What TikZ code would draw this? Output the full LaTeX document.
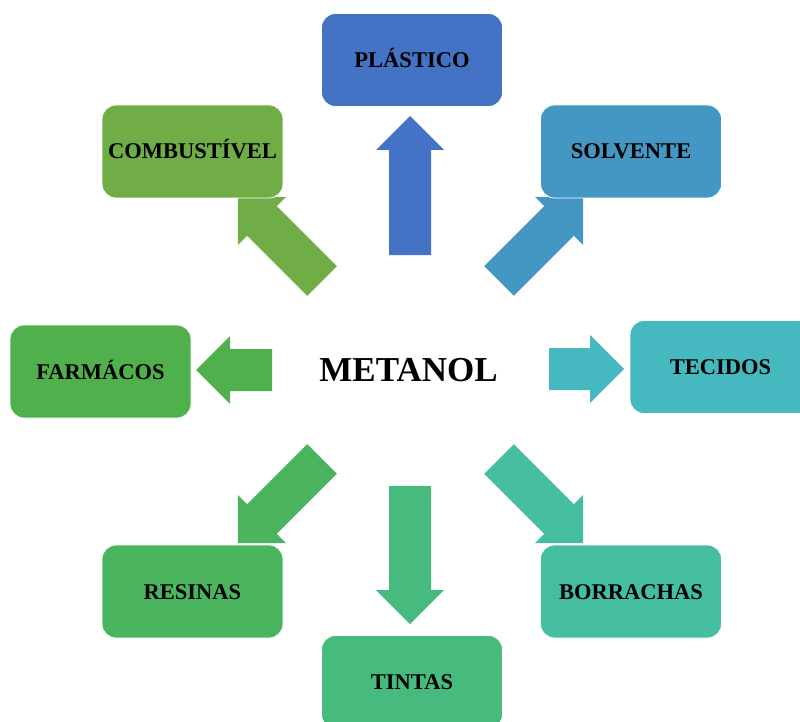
\documentclass[tikz,border=0pt]{standalone}
\usepackage{fontspec}
\setmainfont{Liberation Serif}
\definecolor{cPla}{HTML}{4472C4}
\definecolor{cSol}{HTML}{4497C2}
\definecolor{cTec}{HTML}{45B8C0}
\definecolor{cBor}{HTML}{45BEA0}
\definecolor{cTin}{HTML}{47BA7D}
\definecolor{cRes}{HTML}{4AB55E}
\definecolor{cFar}{HTML}{50B04B}
\definecolor{cCom}{HTML}{70AD47}
\tikzset{
  catbox/.style={rectangle, rounded corners=14pt, minimum width=181pt,
    minimum height=93pt, inner sep=0pt, text height=15pt, text depth=0pt,
    draw=white, line width=0.8pt,
    font=\fontsize{22.5}{27}\selectfont\bfseries, text=black},
  hub/.style={inner sep=0pt, text height=23pt, text depth=0pt,
    font=\fontsize{35}{42}\selectfont\bfseries},
  % block arrow along +x: shaft 42 wide, head 68 wide and 34 long; #1 = total length
  pics/blockarrow/.style={code={
    \fill (0,-21) -- ({#1-34},-21) -- ({#1-34},-34) -- (#1,0)
      -- ({#1-34},34) -- ({#1-34},21) -- (0,21) -- cycle;}}
}
\begin{document}
\begin{tikzpicture}[x=1pt,y=1pt]
\useasboundingbox (0,0) rectangle (800,-722);
\clip (0,0) rectangle (800,-722);

% centre label
\node[hub] (met) at (408.5,-370) {METANOL};

% arrow tails around the centre
\coordinate (tPla) at (410,-255);
\coordinate (tSol) at (499,-281);
\coordinate (tTec) at (549,-369);
\coordinate (tBor) at (499,-459);
\coordinate (tTin) at (410,-486);
\coordinate (tRes) at (322,-459);
\coordinate (tFar) at (272,-370);
\coordinate (tCom) at (322,-281);

% block arrows from the centre towards each box
\pic[fill=cPla, rotate=90]  at (tPla) {blockarrow=139};
\pic[fill=cSol, rotate=45]  at (tSol) {blockarrow=119};
\pic[fill=cTec, rotate=0]   at (tTec) {blockarrow=75};
\pic[fill=cBor, rotate=-45] at (tBor) {blockarrow=119};
\pic[fill=cTin, rotate=-90] at (tTin) {blockarrow=138};
\pic[fill=cRes, rotate=225] at (tRes) {blockarrow=119};
\pic[fill=cFar, rotate=180] at (tFar) {blockarrow=76};
\pic[fill=cCom, rotate=135] at (tCom) {blockarrow=119};

% category boxes
\node[catbox, fill=cPla] (pla) at (412,-60)    {PLÁSTICO};
\node[catbox, fill=cSol] (sol) at (631,-151.5) {SOLVENTE};
\node[catbox, fill=cTec] (tec) at (720.5,-367) {TECIDOS};
\node[catbox, fill=cBor] (bor) at (631,-591.5) {BORRACHAS};
\node[catbox, fill=cTin] (tin) at (412,-682)   {TINTAS};
\node[catbox, fill=cRes] (res) at (192.5,-591.5) {RESINAS};
\node[catbox, fill=cFar] (far) at (100.5,-371.5) {FARMÁCOS};
\node[catbox, fill=cCom] (com) at (192.5,-151.5) {COMBUSTÍVEL};
\end{tikzpicture}
\end{document}
